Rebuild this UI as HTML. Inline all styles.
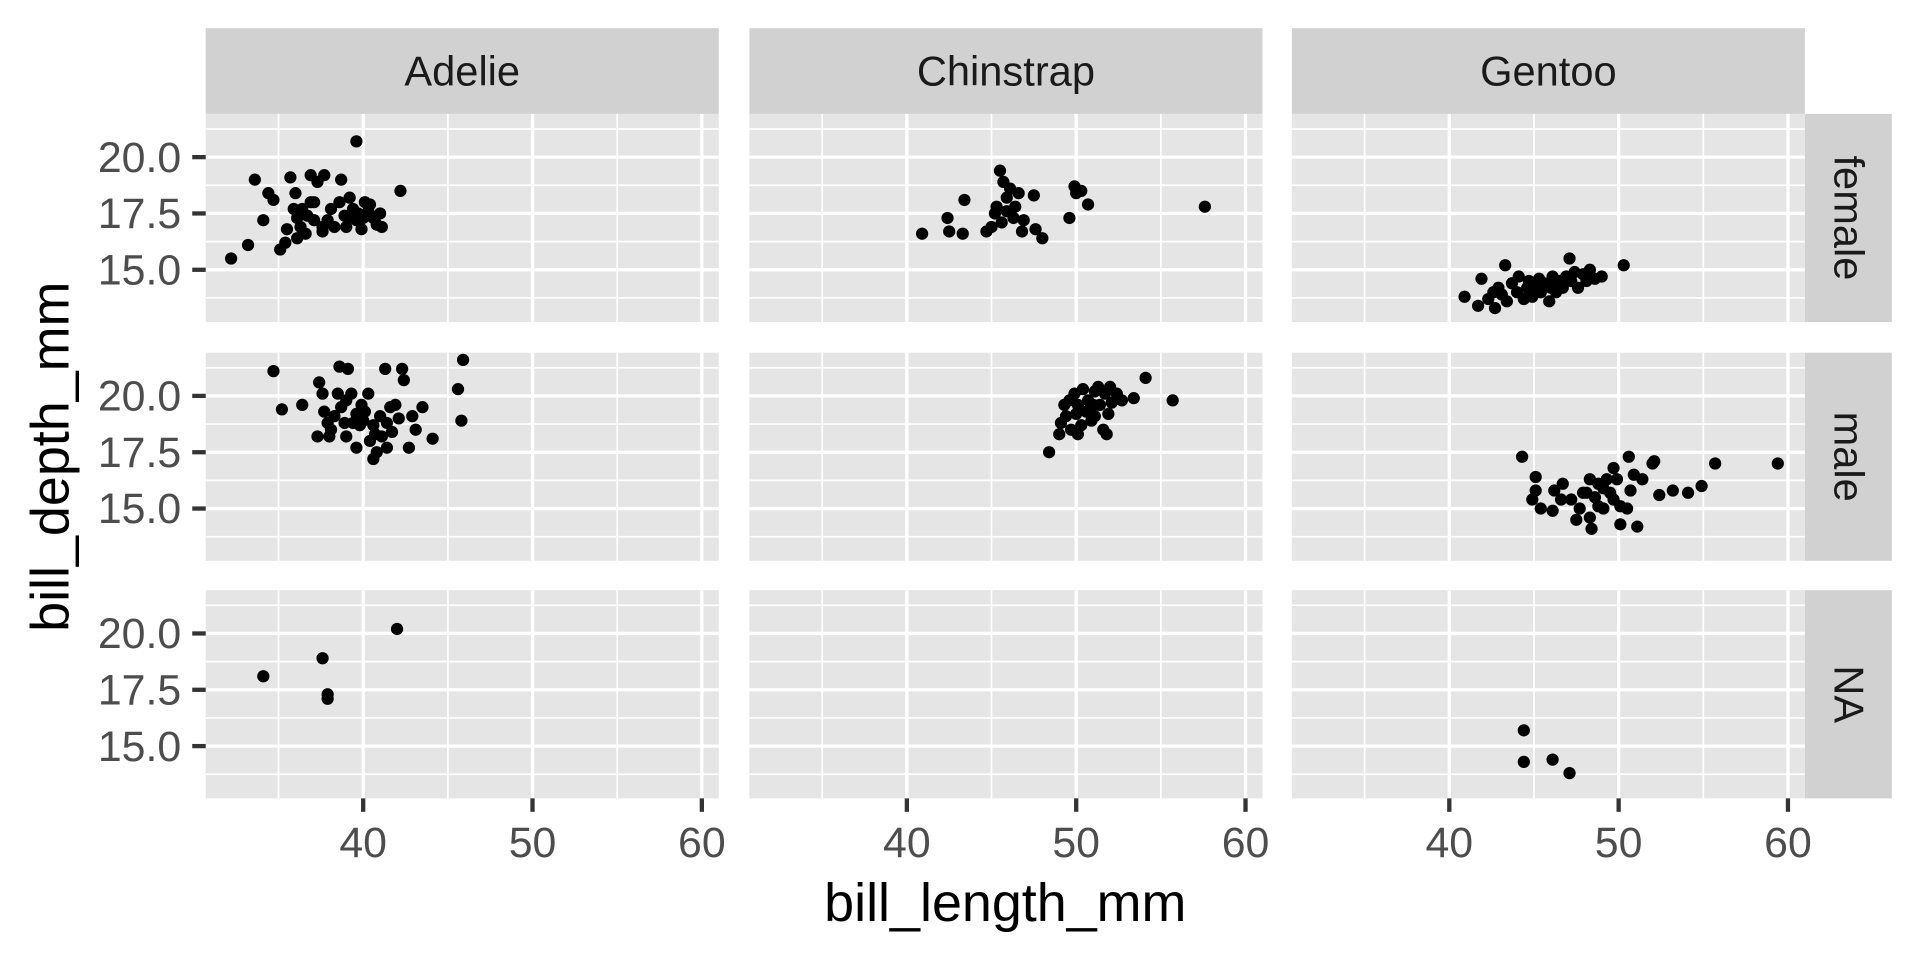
<!DOCTYPE html>
<html><head><meta charset="utf-8"><style>
html,body{margin:0;padding:0;background:#fff;}
svg{display:block;font-family:"Liberation Sans",Arial,sans-serif;}
</style></head><body>
<svg id="chart" width="1920" height="960" viewBox="0 0 1568 784" xmlns="http://www.w3.org/2000/svg">
<rect width="1568" height="784" fill="#fff"/>
</svg>
<script>
const species = ["Adelie","Chinstrap","Gentoo"];
const sexes = ["female","male","NA"];
const xTicks = [40,50,60];
const xMinor = [35,45,55];
const yTicks = [15,17.5,20];
const yTickLabels = ["15.0","17.5","20.0"];
const yMinor = [13.75,16.25,18.75,21.25];
const xDomain = [30.7,61.0];
const yDomain = [12.68,21.92];

const adelieFemaleX=[32.2,33.2,33.6,34.1,34.4,34.7,35.1,35.4,35.5,35.7,35.9,36.0,36.1,36.3,36.4,36.6,36.7,36.9,37.1,37.3,37.6,37.7,37.9,38.1,38.3,38.6,38.7,38.9,39.0,39.1,39.2,39.4,39.6,39.7,39.9,40.0,40.1,40.3,40.4,40.6,40.8,41.0,41.1,39.6,42.2,36.1,37.6,37.1,36.9];
const adelieFemaleY=[15.5,16.1,19.0,17.2,18.4,18.1,15.9,16.2,16.8,19.1,17.7,18.4,17.3,16.9,17.7,16.6,17.4,19.2,18.0,18.9,16.9,19.2,17.2,17.7,16.9,18.0,19.0,17.4,16.9,17.3,18.2,17.7,17.2,17.5,16.8,17.3,18.0,17.6,17.9,17.3,17.0,17.5,16.9,20.7,18.5,16.4,16.7,17.2,18.0];
const chinFemaleX=[40.9,42.4,42.5,43.3,43.4,44.7,45.0,45.2,45.3,45.5,45.6,45.7,45.9,45.9,46.1,46.3,46.4,46.6,46.8,46.9,47.5,47.6,48.0,49.6,49.9,50.0,50.3,50.7,57.6];
const chinFemaleY=[16.6,17.3,16.7,16.6,18.1,16.7,16.9,17.5,17.8,19.4,17.1,18.9,17.6,18.2,18.6,17.3,17.8,18.4,16.7,17.2,18.3,16.8,16.4,17.3,18.7,18.4,18.5,17.9,17.8];
const gentooFemaleX=[40.9,41.7,41.9,42.3,42.6,42.7,42.9,43.1,43.3,43.4,43.7,44.0,44.1,44.4,44.6,44.7,44.9,45.1,45.3,45.4,45.6,45.9,46.0,46.1,46.3,46.5,46.7,46.9,47.1,47.2,47.4,47.6,47.9,48.1,48.3,48.6,49.0,50.3];
const gentooFemaleY=[13.8,13.4,14.6,13.7,14.0,13.3,14.2,13.9,15.2,13.6,14.4,14.0,14.7,13.7,14.2,14.5,13.8,14.2,14.6,14.0,14.4,13.6,14.2,14.7,14.0,14.5,14.2,14.7,15.5,14.5,14.9,14.2,14.8,14.5,15.0,14.6,14.7,15.2];
const adelieMaleX=[34.7,35.2,36.4,37.4,37.6,37.7,37.9,38.0,38.1,38.3,38.5,38.6,38.7,38.9,39.0,39.1,39.3,39.4,39.6,39.8,40.0,40.1,40.3,40.4,40.6,40.6,40.8,41.0,41.1,41.3,41.4,41.6,41.7,41.9,42.1,42.3,42.4,42.7,42.9,43.1,43.5,44.1,45.6,45.8,45.9,37.3,39.0,39.9,41.4,40.7,39.6];
const adelieMaleY=[21.1,19.4,19.6,20.6,20.1,19.3,18.8,18.2,18.5,19.1,20.1,21.3,19.5,18.8,18.2,21.2,20.1,18.8,19.2,18.7,18.9,19.3,20.1,18.0,18.7,17.2,17.5,19.1,18.2,21.2,18.8,19.5,18.4,19.6,19.0,21.2,20.7,17.7,19.1,18.5,19.5,18.1,20.3,18.9,21.6,18.2,19.8,19.6,17.7,18.3,17.7];
const chinMaleX=[48.4,49.0,49.1,49.3,49.4,49.6,49.7,49.9,50.0,50.1,50.3,50.4,50.6,50.7,50.9,51.0,51.1,51.3,51.4,51.6,51.7,51.9,52.0,52.1,52.4,52.7,53.4,54.1,55.7,50.1,51.1,51.8];
const chinMaleY=[17.5,18.3,18.8,19.6,19.1,19.8,18.5,20.1,19.2,19.6,18.7,20.3,19.3,19.8,18.9,19.6,19.1,20.4,19.6,18.5,20.1,19.2,20.4,19.7,20.1,19.8,19.9,20.8,19.8,18.3,20.2,18.3];
const gentooMaleX=[44.3,45.1,45.1,44.9,45.4,46.1,46.2,46.7,46.6,47.2,47.7,47.5,48.3,48.4,48.1,48.3,48.8,49.1,49.3,49.7,49.9,49.7,50.1,50.5,50.7,50.6,50.9,51.4,52.0,52.1,52.4,53.2,54.1,54.9,55.7,59.4,50.1,51.1,48.8,49.1,47.9,49.5,48.6];
const gentooMaleY=[17.3,16.4,15.8,15.4,15.0,14.9,15.8,16.1,15.4,15.4,15.0,14.5,14.6,14.1,15.7,16.3,16.1,15.9,16.3,16.8,16.3,15.4,15.1,15.0,15.8,17.3,16.5,16.3,17.0,17.1,15.6,15.8,15.7,16.0,17.0,17.0,14.3,14.2,15.1,15.0,15.7,15.7,15.5];
const adelieNAX=[34.1,37.6,37.9,37.9,42.0];
const adelieNAY=[18.1,18.9,17.3,17.1,20.2];
const gentooNAX=[44.4,44.4,46.1,47.1];
const gentooNAY=[15.7,14.3,14.4,13.8];

const seriesX=[[adelieFemaleX,chinFemaleX,gentooFemaleX],[adelieMaleX,chinMaleX,gentooMaleX],[adelieNAX,[],gentooNAX]];
const seriesY=[[adelieFemaleY,chinFemaleY,gentooFemaleY],[adelieMaleY,chinMaleY,gentooMaleY],[adelieNAY,[],gentooNAY]];

const NS="http://www.w3.org/2000/svg";
const svg=document.getElementById('chart');
const colLeft=[168,612,1055], panelW=419;
const rowTop=[93,288,482], panelH=170;
function mk(tag,attrs,parent){const e=document.createElementNS(NS,tag);for(const k in attrs)e.setAttribute(k,attrs[k]);(parent||svg).appendChild(e);return e;}
function xScale(c,v){return colLeft[c]+(v-xDomain[0])/(xDomain[1]-xDomain[0])*panelW;}
function yScale(r,v){return rowTop[r]+panelH-(v-yDomain[0])/(yDomain[1]-yDomain[0])*panelH;}

for(let r=0;r<3;r++){for(let c=0;c<3;c++){
  const g=mk('g',{});
  
  
  mk('rect',{x:colLeft[c],y:rowTop[r],width:panelW,height:panelH,fill:'#e5e5e5'},g);
  xMinor.forEach(v=>{const x=xScale(c,v);mk('line',{x1:x,x2:x,y1:rowTop[r],y2:rowTop[r]+panelH,stroke:'#fff','stroke-width':1.4},g);});
  yMinor.forEach(v=>{const y=yScale(r,v);mk('line',{x1:colLeft[c],x2:colLeft[c]+panelW,y1:y,y2:y,stroke:'#fff','stroke-width':1.4},g);});
  xTicks.forEach(v=>{const x=xScale(c,v);mk('line',{x1:x,x2:x,y1:rowTop[r],y2:rowTop[r]+panelH,stroke:'#fff','stroke-width':2.7},g);});
  yTicks.forEach(v=>{const y=yScale(r,v);mk('line',{x1:colLeft[c],x2:colLeft[c]+panelW,y1:y,y2:y,stroke:'#fff','stroke-width':2.7},g);});
  const xs=seriesX[r][c], ys=seriesY[r][c];
  for(let i=0;i<xs.length;i++){
    const p=mk('circle',{cx:xScale(c,xs[i]),cy:yScale(r,ys[i]),r:5,fill:'#000'},g);
    
    
  }
}}
species.forEach((s,c)=>{
  const g=mk('g',{});
  
  
  mk('rect',{x:colLeft[c],y:23,width:panelW,height:70,fill:'#d1d1d1'},g);
  const t=mk('text',{x:colLeft[c]+panelW/2,y:70,'text-anchor':'middle','font-size':34,fill:'#1a1a1a'},g);
  t.textContent=s;
});
sexes.forEach((s,r)=>{
  const g=mk('g',{});
  
  
  mk('rect',{x:1474,y:rowTop[r],width:71,height:panelH,fill:'#d1d1d1'},g);
  const cy=rowTop[r]+panelH/2;
  const t=mk('text',{x:1498,y:cy,'text-anchor':'middle','font-size':34,fill:'#1a1a1a',transform:'rotate(90 1498 '+cy+')'},g);
  t.textContent=s;
});
for(let r=0;r<3;r++){yTicks.forEach((v,i)=>{
  const y=yScale(r,v);
  mk('line',{x1:157,x2:168,y1:y,y2:y,stroke:'#333','stroke-width':3.5});
  const t=mk('text',{x:148,y:y+12,'text-anchor':'end','font-size':35,fill:'#4d4d4d'});
  
  
  t.textContent=yTickLabels[i];
});}
for(let c=0;c<3;c++){xTicks.forEach(v=>{
  const x=xScale(c,v);
  mk('line',{x1:x,x2:x,y1:652,y2:663,stroke:'#333','stroke-width':3.5});
  const t=mk('text',{x:x,y:700,'text-anchor':'middle','font-size':35,fill:'#4d4d4d'});
  
  
  t.textContent=String(v);
});}
const xt=mk('text',{x:821,y:752,'text-anchor':'middle','font-size':44,fill:'#000'});


xt.textContent='bill_length_mm';
const yt=mk('text',{x:56,y:373,'text-anchor':'middle','font-size':44,fill:'#000',transform:'rotate(-90 56 373)'});


yt.textContent='bill_depth_mm';
</script>
</body></html>
